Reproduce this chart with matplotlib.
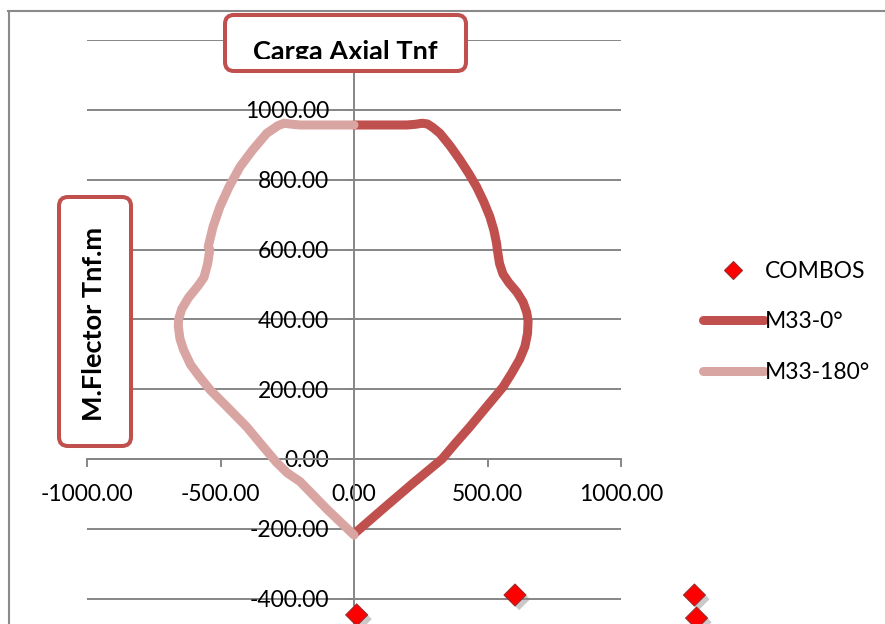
import matplotlib
matplotlib.use('Agg')
import matplotlib.pyplot as plt
import matplotlib.patheffects as pe
from matplotlib.patches import FancyBboxPatch
from matplotlib.lines import Line2D
from matplotlib.transforms import IdentityTransform, Bbox
from matplotlib.ticker import FuncFormatter, FormatStrFormatter

plt.rcParams['font.family'] = ['Lato', 'DejaVu Sans']

# interaction diagram, M33-0 side
m0_x = [0, 110, 220, 330, 380, 434, 497, 558, 590, 620, 640, 650, 652, 647, 633,
        610, 580, 558, 545, 537, 534, 524, 509, 486, 459, 430, 397, 360, 322,
        295, 275, 255, 230, 198, 0]
m0_y = [-215, -142, -70, 0, 45, 92, 150, 206, 245, 285, 322, 360, 395, 420, 450,
        478, 505, 530, 560, 599, 618, 655, 694, 737, 780, 818, 857, 897, 933,
        950, 960, 962, 959, 957, 957]

# M33-180 side
m180_x = [0, -100, -202, -250, -290, -340, -402, -470, -539, -578, -612, -638,
          -652, -658, -657, -645, -620, -585, -562, -548, -540, -546, -528, -502,
          -468, -427, -380, -327, -285, -262, -230, -202, 0]
m180_y = [-218, -145, -65, -40, -10, 35, 92, 145, 198, 235, 270, 312,
          345, 380, 400, 430, 462, 495, 520, 560, 600, 608, 665, 723,
          780, 837, 885, 933, 955, 962, 959, 957, 957]

# load combinations
combo_x = [10, 603, 1275, 1283]
combo_y = [-447, -390, -390, -456]

W, H = 885, 624
gray = '#868686'
red = '#C0504D'
pink = '#D9A5A3'

fig = plt.figure(figsize=(W / 100, H / 100), dpi=100)
ax = fig.add_axes([87 / W, 0, 534 / W, (H - 40.2) / H])
ax.set_xlim(-1000, 1000)
ax.set_ylim(-473, 1200)

for s in ['top', 'right']:
    ax.spines[s].set_visible(False)
ax.spines['left'].set_position(('data', 0))
ax.spines['bottom'].set_position(('data', 0))
for s in ['left', 'bottom']:
    ax.spines[s].set_color(gray)
    ax.spines[s].set_linewidth(1.4)

ax.set_xticks([-1000, -500, 0, 500, 1000])
ax.set_yticks(range(-400, 1201, 200))
ax.xaxis.set_major_formatter(FormatStrFormatter('%.2f'))
# top label sits under the title box in the original
ax.yaxis.set_major_formatter(FuncFormatter(lambda v, p: '' if v > 1100 else '%.2f' % v))
ax.tick_params(axis='both', direction='out', length=6, width=1.4, color=gray,
               labelsize=16.5, pad=12)
ax.yaxis.grid(True, color=gray, lw=1.4)
ax.set_axisbelow(True)

ax.scatter(combo_x, combo_y, marker='D', s=125, color='#FF0000',
           edgecolor='#9B2B2B', linewidth=0.8, clip_on=False, zorder=4,
           path_effects=[pe.SimplePatchShadow(offset=(3, -3), shadow_rgbFace='#888888',
                                              alpha=0.45), pe.Normal()])
l0, = ax.plot(m0_x, m0_y, color=red, lw=6.5, solid_capstyle='round',
              solid_joinstyle='round', zorder=3)
l180, = ax.plot(m180_x, m180_y, color=pink, lw=6.5, solid_capstyle='round',
                solid_joinstyle='round', zorder=3)

# legend marker without the shadow
combo_handle = Line2D([], [], ls='none', marker='D', markersize=9.5,
                      markerfacecolor='#FF0000', markeredgecolor='#9B2B2B',
                      markeredgewidth=0.8)
ax.legend([combo_handle, l0, l180], ['COMBOS', 'M33-0°', 'M33-180°'], loc='upper left',
          bbox_to_anchor=(703 / W, 1 - 261 / H), bbox_transform=fig.transFigure,
          frameon=False, fontsize=16.5, handlelength=2.65, handletextpad=0.05,
          labelspacing=1.28, borderpad=0, borderaxespad=0)


def box(x0, y0, x1, y1):
    p = FancyBboxPatch((x0, H - y1), x1 - x0, y1 - y0,
                       boxstyle='round,pad=0,rounding_size=9',
                       transform=IdentityTransform(), fc='white', ec=red,
                       lw=2.9, zorder=5)
    fig.add_artist(p)


box(225, 15, 466, 71)
box(59, 197, 131, 446)

t = fig.text(345 / W, 1 - 60 / H, 'Carga Axial Tnf', ha='center', va='baseline',
             fontsize=19.5, fontweight='bold', zorder=6)
t.set_clip_box(Bbox.from_extents(0, H - 58.5, W, H))
t.set_clip_on(True)
fig.text(94 / W, 1 - 324 / H, 'M.Flector Tnf.m', rotation=90, ha='center',
         va='center', fontsize=19.5, fontweight='bold', zorder=6)

# chart frame
fig.add_artist(Line2D([8.5, 8.5], [H - 10.5, 0], transform=IdentityTransform(),
                      color='#8a8a8a', lw=1.5))
fig.add_artist(Line2D([8, W], [H - 10.5, H - 10.5], transform=IdentityTransform(),
                      color='#8a8a8a', lw=1.5))

fig.savefig('out.png', dpi=100)
